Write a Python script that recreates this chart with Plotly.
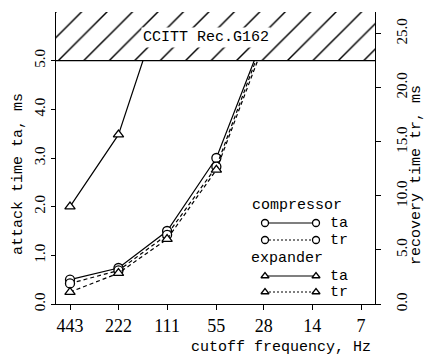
import math
import plotly.graph_objects as go

# ---------------- data ----------------
freq_ticks = [443, 222, 111, 55, 28, 14, 7]
freq_labels = ["443", "222", "111", "55", "28", "14", "7"]

comp_freq = [443, 222, 111, 55, 28]
comp_ta = [0.50, 0.74, 1.50, 3.00, 5.50]          # attack time, ms (left axis)
comp_tr = [1.90, 3.10, 6.40, 12.70, 24.50]        # recovery time, ms (right axis)

exp_ta_freq = [443, 222, 111]
exp_ta = [2.00, 3.48, 6.50]                       # attack time, ms (left axis)
exp_tr_freq = [443, 222, 111, 55, 28]
exp_tr = [1.10, 2.85, 6.00, 12.40, 24.00]         # recovery time, ms (right axis)

ta_ticks = [0, 1, 2, 3, 4, 5]
tr_ticks = [0, 5, 10, 15, 20, 25]
ta_range = [0, 6]
tr_range = [0, 27]
limit_ta = 5.0   # CCITT Rec. G162 limit on attack-time axis
limit_tr = limit_ta * tr_range[1] / ta_range[1]

# ---------------- layout helpers ----------------
W, H = 424, 358
L, R, T, B = 56, 375, 12, 304   # plot area in pixels


def px(x):
    return (x - L) / (R - L)


def py(y):
    return (B - y) / (B - T)


mono = "Liberation Mono"
serif = "Liberation Serif"
black = "black"
dash = "4px,3px"

fig = go.Figure()

mk = dict(color="white", size=9, line=dict(color=black, width=1.3))

fig.add_trace(go.Scatter(x=comp_freq, y=comp_ta, mode="lines+markers",
                         line=dict(color=black, width=1.2),
                         marker=dict(symbol="circle", **mk), yaxis="y"))
fig.add_trace(go.Scatter(x=exp_ta_freq, y=exp_ta, mode="lines+markers",
                         line=dict(color=black, width=1.2),
                         marker=dict(symbol="triangle-up", **mk), yaxis="y"))
fig.add_trace(go.Scatter(x=comp_freq, y=comp_tr, mode="lines+markers",
                         line=dict(color=black, width=1.2, dash=dash),
                         marker=dict(symbol="circle", **mk), yaxis="y2"))
fig.add_trace(go.Scatter(x=exp_tr_freq, y=exp_tr, mode="lines+markers",
                         line=dict(color=black, width=1.2, dash=dash),
                         marker=dict(symbol="triangle-up", **mk), yaxis="y2"))

# hatched forbidden zone above limit (covers the curves)
fig.add_trace(go.Scatter(x=[5000, 0.1, 0.1, 5000, 5000],
                         y=[limit_tr, limit_tr, 60, 60, limit_tr],
                         mode="lines", fill="toself", yaxis="y2",
                         line=dict(color=black, width=1.3),
                         fillcolor="white",
                         fillpattern=dict(shape="/", size=18, solidity=0.08,
                                          fgcolor=black, bgcolor="white",
                                          fillmode="replace"),
                         hoverinfo="skip"))

# ---------------- manual legend ----------------
leg_x0, leg_x1 = 265, 316
leg_rows = [
    dict(y=223, sym="circle", dash="solid", label="ta"),
    dict(y=240, sym="circle", dash="2px,2px", label="tr"),
    dict(y=276, sym="triangle-up", dash="solid", label="ta"),
    dict(y=292, sym="triangle-up", dash="2px,2px", label="tr"),
]
for r in leg_rows:
    fig.add_trace(go.Scatter(x=[leg_x0, leg_x1], y=[r["y"], r["y"]],
                             mode="lines+markers", xaxis="x3", yaxis="y3",
                             line=dict(color=black, width=1.2, dash=r["dash"]),
                             marker=dict(symbol=r["sym"], color="white", size=7,
                                         line=dict(color=black, width=1.3)),
                             hoverinfo="skip"))

annotations = []
for r in leg_rows:
    annotations.append(dict(x=px(328), y=py(r["y"]), xref="paper", yref="paper",
                            text=r["label"], showarrow=False, xanchor="left",
                            yanchor="middle", font=dict(family=mono, size=15, color=black)))
annotations += [
    dict(x=px(297), y=py(205), text="compressor"),
    dict(x=px(287), y=py(258), text="expander"),
    dict(x=px(206), y=py(37), text="CCITT Rec.G162", bgcolor="white", borderpad=1),
    dict(x=px(18), y=py(174), text="attack time ta, ms", textangle=-90),
    dict(x=px(416), y=py(175), text="recovery time tr, ms", textangle=-90),
    dict(x=px(281), y=py(347), text="cutoff frequency, Hz"),
]
for a in annotations[len(leg_rows):]:
    a.update(xref="paper", yref="paper", showarrow=False,
             xanchor="center", yanchor="middle",
             font=dict(family=mono, size=15, color=black))

lx_hi = math.log10(443) + 14 / 161.6
lx_lo = math.log10(7) - 14 / 161.6

fig.update_layout(
    width=W, height=H, autosize=False,
    margin=dict(l=L, r=W - R, t=T, b=H - B, pad=0),
    paper_bgcolor="white", plot_bgcolor="white",
    showlegend=False,
    annotations=annotations,
    xaxis=dict(type="log", range=[lx_hi, lx_lo], tickvals=freq_ticks, ticktext=freq_labels,
               showgrid=False, zeroline=False, showline=True, linecolor=black, linewidth=1.3,
               ticks="outside", ticklen=5, tickwidth=1.2, tickcolor=black,
               tickfont=dict(family=serif, size=18, color=black), mirror=False),
    yaxis=dict(range=ta_range, tickvals=ta_ticks, tickformat=".1f",
               showgrid=False, zeroline=False, showline=True, linecolor=black, linewidth=1.3,
               ticks="outside", ticklen=4, tickwidth=1.2, tickcolor=black, tickangle=-90,
               tickfont=dict(family=serif, size=15, color=black)),
    yaxis2=dict(range=tr_range, tickvals=tr_ticks, tickformat=".1f", overlaying="y", side="right",
                showgrid=False, zeroline=False, showline=True, linecolor=black, linewidth=1.3,
                ticks="outside", ticklen=5, tickwidth=1.2, tickcolor=black, tickangle=-90,
                tickfont=dict(family=serif, size=15, color=black), ticklabelstandoff=8),
    xaxis3=dict(overlaying="x", anchor="y3", range=[L, R], visible=False),
    yaxis3=dict(overlaying="y", anchor="x3", range=[B, T], visible=False),
)

fig.write_html("out.html")
